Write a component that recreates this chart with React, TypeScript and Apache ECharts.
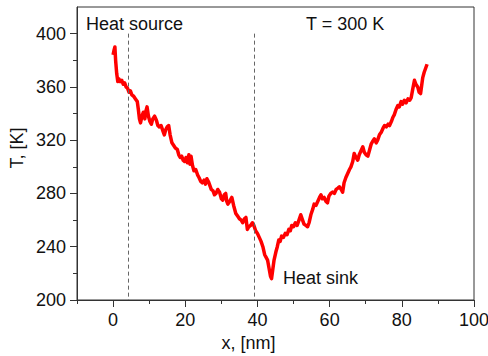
import React, { useEffect, useRef } from "react";
import * as echarts from "echarts";

const xValues: number[] = [
  0.0, 0.3, 0.5, 0.7, 1.0, 1.3, 1.6, 2.0, 2.4, 2.8, 3.2, 3.6, 4.0, 4.4, 4.8, 5.2, 5.7, 6.2, 6.7, 7.0,
  7.3, 7.6, 8.0, 8.4, 8.8, 9.1, 9.4, 9.8, 10.2, 10.6, 11.0, 11.5, 12.0, 12.4, 12.8, 13.3, 13.8, 14.2, 14.6, 15.0,
  15.4, 15.8, 16.3, 16.8, 17.3, 17.8, 18.2, 18.6, 19.0, 19.4, 19.8, 20.2, 20.6, 21.0, 21.3, 21.6, 22.0, 22.4, 22.9, 23.4,
  23.8, 24.3, 24.7, 25.2, 25.6, 26.0, 26.4, 26.8, 27.2, 27.7, 28.1, 28.5, 29.0, 29.5, 30.0, 30.4, 30.8, 31.2, 31.5, 31.8,
  32.3, 32.9, 33.4, 34.0, 34.5, 35.0, 35.5, 35.9, 36.4, 36.8, 37.2, 37.6, 38.1, 38.6, 39.0, 39.5, 40.0, 40.5, 41.0, 41.5,
  42.0, 42.4, 42.8, 43.2, 43.6, 43.9, 44.2, 44.6, 45.1, 45.5, 45.9, 46.3, 46.7, 47.2, 47.7, 48.2, 48.7, 49.1, 49.5, 50.0,
  50.5, 51.0, 51.5, 52.0, 52.5, 52.9, 53.4, 53.9, 54.3, 54.8, 55.3, 55.7, 56.2, 56.7, 57.2, 57.6, 58.0, 58.5, 59.0, 59.4,
  59.8, 60.3, 60.8, 61.3, 61.8, 62.3, 62.7, 63.2, 63.6, 64.0, 64.5, 65.0, 65.5, 65.9, 66.4, 66.8, 67.3, 67.8, 68.2, 68.7,
  69.2, 69.6, 70.1, 70.6, 71.1, 71.5, 71.9, 72.4, 72.9, 73.3, 73.8, 74.3, 74.8, 75.2, 75.7, 76.2, 76.6, 77.1, 77.5, 77.9,
  78.4, 78.9, 79.3, 79.8, 80.2, 80.7, 81.2, 81.7, 82.2, 82.6, 83.0, 83.5, 83.9, 84.4, 84.8, 85.2, 85.5, 85.8, 86.2, 86.6,
  87.0,
];

const temperatures: number[] = [
  384, 388, 390, 380, 370, 364, 366, 364, 365, 362, 363, 360, 359, 356, 357, 354, 353, 351, 349, 343,
  336, 333, 338, 341, 336, 342, 345, 338, 334, 332, 336, 338, 335, 331, 330, 331, 327, 324, 328, 330,
  331, 324, 318, 316, 314, 313, 309, 307, 308, 305, 304, 307, 303, 309, 302, 308, 301, 297, 298, 294,
  292, 289, 288, 290, 287, 291, 289, 286, 283, 282, 279, 280, 283, 281, 276, 275, 279, 280, 274, 272,
  274, 277, 271, 265, 263, 261, 260, 258, 261, 262, 253, 255, 256, 258, 256, 252, 250, 247, 244, 240,
  234, 232, 230, 224, 218, 216, 222, 230, 236, 240, 245, 244, 248, 247, 250, 249, 253, 252, 256, 255,
  258, 256, 260, 264, 260, 257, 256, 255, 258, 264, 268, 272, 271, 274, 277, 279, 276, 277, 274, 273,
  278, 280, 281, 280, 283, 284, 285, 283, 281, 288, 292, 295, 298, 300, 304, 310, 307, 305, 309, 312,
  315, 311, 309, 308, 313, 317, 319, 321, 318, 320, 324, 326, 329, 331, 330, 332, 331, 334, 337, 339,
  343, 346, 345, 349, 347, 350, 348, 351, 350, 352, 358, 365, 362, 360, 356, 355, 361, 367, 371, 374,
  377,
];

const xMajorTicks: number[] = [0, 20, 40, 60, 80, 100];
const xMinorTicks: number[] = [-10, 10, 30, 50, 70, 90];
const yMajorTicks: number[] = [200, 240, 280, 320, 360, 400];
const yMinorTicks: number[] = [220, 260, 300, 340, 380];
const boundaryX: number[] = [4.2, 39.1];

const FONT = "Arial, 'Liberation Sans', sans-serif";
const TEXT = "#111";
const AXIS = "#333";
const FS = 18;

export default function App() {
  const ref = useRef<HTMLDivElement>(null);

  useEffect(() => {
    if (!ref.current) return;
    const chart = echarts.init(ref.current, null, { renderer: "svg" });
    const data = xValues.map((x, i) => [x, temperatures[i]]);

    const baseX = {
      type: "value",
      min: -10,
      max: 100,
      interval: 10,
      splitLine: { show: false },
    };
    const baseY = {
      type: "value",
      min: 200,
      max: 420,
      interval: 20,
      splitLine: { show: false },
    };

    chart.setOption({
      animation: false,
      grid: {
        left: 77,
        right: 14,
        top: 7,
        bottom: 56,
        show: true,
        borderColor: AXIS,
        borderWidth: 1,
        backgroundColor: "transparent",
        outerBoundsMode: "none",
      },
      xAxis: [
        {
          ...baseX,
          position: "bottom",
          axisLine: { show: true, onZero: false, lineStyle: { color: AXIS, width: 1 } },
          axisTick: { show: true, length: 7, customValues: xMajorTicks, lineStyle: { color: AXIS } },
          axisLabel: {
            show: true,
            customValues: xMajorTicks,
            margin: 11,
            fontSize: FS,
            fontFamily: FONT,
            color: TEXT,
          },
        },
        {
          ...baseX,
          position: "bottom",
          axisLine: { show: false, onZero: false },
          axisTick: { show: true, length: 4, customValues: xMinorTicks, lineStyle: { color: AXIS } },
          axisLabel: { show: false },
        },
      ],
      yAxis: [
        {
          ...baseY,
          position: "left",
          axisLine: { show: true, onZero: false, lineStyle: { color: AXIS, width: 1 } },
          axisTick: { show: true, length: 7, customValues: yMajorTicks, lineStyle: { color: AXIS } },
          axisLabel: {
            show: true,
            customValues: yMajorTicks,
            margin: 11,
            fontSize: FS,
            fontFamily: FONT,
            color: TEXT,
          },
        },
        {
          ...baseY,
          position: "left",
          axisLine: { show: false, onZero: false },
          axisTick: { show: true, length: 4, customValues: yMinorTicks, lineStyle: { color: AXIS } },
          axisLabel: { show: false },
        },
      ],
      series: [
        {
          type: "line",
          xAxisIndex: 0,
          yAxisIndex: 0,
          data,
          showSymbol: false,
          symbol: "none",
          lineStyle: { color: "#ff0000", width: 3.5, join: "round" },
          markLine: {
            silent: true,
            symbol: "none",
            label: { show: false },
            lineStyle: { color: "#666", width: 1, type: [4, 3] },
            data: boundaryX.map((bx) => [
              { coord: [bx, 400] },
              { coord: [bx, 200] },
            ]),
          },
        },
      ],
      graphic: [
        {
          type: "text",
          x: 86,
          y: 24,
          style: { text: "Heat source", font: `${FS}px ${FONT}`, fill: TEXT, textAlign: "left", textVerticalAlign: "middle" },
        },
        {
          type: "text",
          x: 306,
          y: 24,
          style: { text: "T = 300 K", font: `${FS}px ${FONT}`, fill: TEXT, textAlign: "left", textVerticalAlign: "middle" },
        },
        {
          type: "text",
          x: 283,
          y: 278,
          style: { text: "Heat sink", font: `${FS}px ${FONT}`, fill: TEXT, textAlign: "left", textVerticalAlign: "middle" },
        },
        {
          type: "text",
          x: 248.5,
          y: 343,
          style: { text: "x, [nm]", font: `${FS}px ${FONT}`, fill: TEXT, textAlign: "center", textVerticalAlign: "middle" },
        },
        {
          type: "text",
          x: 17,
          y: 148,
          rotation: Math.PI / 2,
          style: { text: "T, [K]", font: `${FS}px ${FONT}`, fill: TEXT, textAlign: "center", textVerticalAlign: "middle" },
        },
      ],
    });

    return () => chart.dispose();
  }, []);

  return <div ref={ref} style={{ width: 488, height: 356, position: "absolute", left: 0, top: 0 }} />;
}
